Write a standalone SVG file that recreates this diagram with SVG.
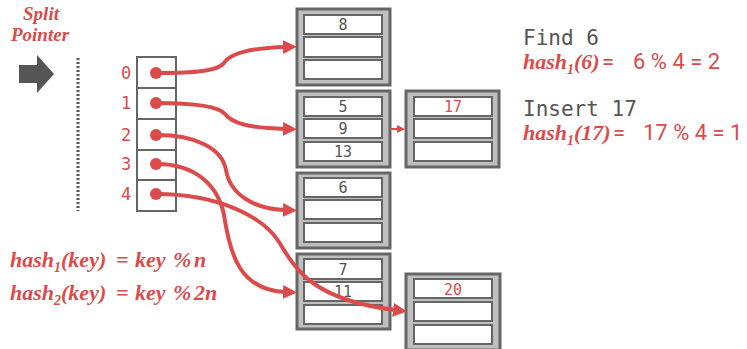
<svg xmlns="http://www.w3.org/2000/svg" width="747" height="349" viewBox="0 0 747 349">
<style>
.red{fill:#dc4b4b}
.hf{font-family:"Liberation Serif",serif;font-style:italic;font-weight:bold}
.sans{font-family:Roboto,"Liberation Sans",sans-serif}
.mono{font-family:"DejaVu Sans Mono",monospace}
.bk{fill:#bfbfbf;stroke:#666;stroke-width:3}
.sl{fill:#fff;stroke:#666;stroke-width:2}
.num{font-family:"DejaVu Sans Mono",monospace;font-size:15px;fill:#555;text-anchor:middle}
.idx{font-family:"DejaVu Sans Mono",monospace;font-size:17px;fill:#dc4b4b;text-anchor:middle}
.con{fill:none;stroke:#dc4b4b;stroke-width:4}
</style>
<defs>
<marker id="ah" markerUnits="userSpaceOnUse" markerWidth="16" markerHeight="14" refX="2" refY="7" orient="auto">
<path d="M0,0 L14,7 L0,14 z" fill="#dc4b4b"/>
</marker>
<marker id="ahs" markerUnits="userSpaceOnUse" markerWidth="10" markerHeight="10" refX="1" refY="4" orient="auto">
<path d="M0,0 L8,4 L0,8 z" fill="#dc4b4b"/>
</marker>
</defs>
<rect width="747" height="349" fill="#fff"/>

<g id="split-pointer">
<text class="hf red" font-size="19" text-anchor="middle"><tspan x="41" y="20">Split</tspan><tspan x="40" y="41">Pointer</tspan></text>
<path d="M19,65 H37 V55 L54,74 L37,93 V83 H19 z" fill="#555"/>
<line x1="78" y1="58" x2="78" y2="211" stroke="#555" stroke-width="3" stroke-dasharray="2,2"/>
</g>

<g id="directory">
<rect x="137" y="57" width="39" height="154" fill="#fff" stroke="#666" stroke-width="2"/>
<path d="M137,88 H176 M137,119 H176 M137,150 H176 M137,180 H176" stroke="#666" stroke-width="2"/>
<g fill="#dc4b4b">
<circle cx="156" cy="73" r="6"/><circle cx="156" cy="103" r="6"/><circle cx="156" cy="135" r="6"/><circle cx="156" cy="164" r="6"/><circle cx="156" cy="194" r="6"/>
</g>
<text class="idx" x="126" y="79">0</text>
<text class="idx" x="126" y="109">1</text>
<text class="idx" x="126" y="141">2</text>
<text class="idx" x="126" y="170">3</text>
<text class="idx" x="126" y="200">4</text>
</g>

<g id="bucket0">
<rect class="bk" x="297" y="9" width="93" height="76"/>
<rect class="sl" x="304" y="15" width="78" height="19"/>
<rect class="sl" x="304" y="37" width="78" height="20"/>
<rect class="sl" x="304" y="60" width="78" height="19"/>
<text class="num" x="343" y="30">8</text>
</g>
<g id="bucket1">
<rect class="bk" x="297" y="91" width="93" height="76"/>
<rect class="sl" x="304" y="97" width="78" height="19"/>
<rect class="sl" x="304" y="119" width="78" height="19"/>
<rect class="sl" x="304" y="142" width="78" height="19"/>
<text class="num" x="343" y="112">5</text>
<text class="num" x="343" y="134">9</text>
<text class="num" x="343" y="157">13</text>
</g>
<g id="overflow1">
<rect class="bk" x="406" y="91" width="93" height="76"/>
<rect class="sl" x="414" y="97" width="78" height="19"/>
<rect class="sl" x="414" y="119" width="78" height="19"/>
<rect class="sl" x="414" y="142" width="78" height="19"/>
<text class="num" x="453" y="112" style="fill:#dc4b4b">17</text>
</g>
<g id="bucket2">
<rect class="bk" x="297" y="173" width="93" height="75"/>
<rect class="sl" x="304" y="178" width="78" height="19"/>
<rect class="sl" x="304" y="200" width="78" height="19"/>
<rect class="sl" x="304" y="223" width="78" height="19"/>
<text class="num" x="343" y="193">6</text>
</g>
<g id="bucket3">
<rect class="bk" x="297" y="254" width="93" height="75"/>
<rect class="sl" x="304" y="259" width="78" height="20"/>
<rect class="sl" x="304" y="282" width="78" height="19"/>
<rect class="sl" x="304" y="305" width="78" height="19"/>
<text class="num" x="343" y="275">7</text>
<text class="num" x="343" y="297">11</text>
</g>
<g id="overflow3">
<rect class="bk" x="406" y="274" width="94" height="76"/>
<rect class="sl" x="414" y="279" width="78" height="19"/>
<rect class="sl" x="414" y="302" width="78" height="19"/>
<rect class="sl" x="414" y="325" width="78" height="19"/>
<text class="num" x="453" y="295" style="fill:#dc4b4b">20</text>
</g>

<g id="connectors">
<path class="con" marker-end="url(#ah)" d="M157,73 C195,73 218,71 224,63 C230,54 248,48 285,47"/>
<path class="con" marker-end="url(#ah)" d="M157,103 C195,103 218,106 225,114 C232,123 248,128 285,129"/>
<path class="con" marker-end="url(#ah)" d="M157,135 C195,135 222,148 226,170 C230,195 255,209 285,210"/>
<path class="con" marker-end="url(#ah)" d="M157,164 C195,164 218,185 224,215 C230,255 240,290 285,292"/>
<path class="con" marker-end="url(#ah)" d="M157,194 C215,194 262,215 279,242 C297,272 315,300 395,310"/>
<line x1="390" y1="129" x2="398" y2="129" stroke="#dc4b4b" stroke-width="2" marker-end="url(#ahs)"/>
</g>

<g id="find">
<text class="mono" x="523" y="45" font-size="21" fill="#555">Find 6</text>
<text class="red" y="69" font-size="22"><tspan class="hf" x="523">hash</tspan><tspan class="hf" font-size="14" dy="5">1</tspan><tspan class="hf" dy="-5">(6)</tspan><tspan class="sans" x="602">=</tspan><tspan class="sans" x="633">6 % 4 = 2</tspan></text>
</g>
<g id="insert">
<text class="mono" x="523" y="116" font-size="21" fill="#555">Insert 17</text>
<text class="red" y="140" font-size="22"><tspan class="hf" x="523">hash</tspan><tspan class="hf" font-size="14" dy="5">1</tspan><tspan class="hf" dy="-5">(17)</tspan><tspan class="sans" x="613">=</tspan><tspan class="sans" x="643">17 % 4 = 1</tspan></text>
</g>

<g id="formulas">
<text class="hf red" y="267" font-size="22"><tspan x="10">hash</tspan><tspan font-size="14" dy="5">1</tspan><tspan dy="-5">(key)</tspan><tspan x="116">=</tspan><tspan x="135">key</tspan><tspan x="173">%</tspan><tspan x="194">n</tspan></text>
<text class="hf red" y="300" font-size="22"><tspan x="10">hash</tspan><tspan font-size="14" dy="5">2</tspan><tspan dy="-5">(key)</tspan><tspan x="116">=</tspan><tspan x="135">key</tspan><tspan x="173">%</tspan><tspan x="194">2n</tspan></text>
</g>
</svg>
